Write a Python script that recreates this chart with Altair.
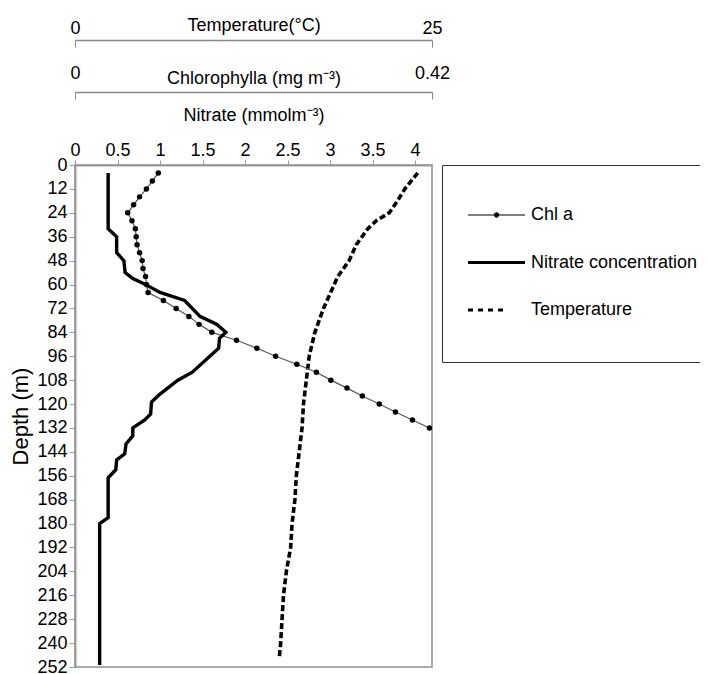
import altair as alt
import pandas as pd

# ---- data ----
depth_chl = [4, 8, 12, 16, 20, 24, 28, 32, 36, 40, 44, 48, 52, 56, 60, 64, 68,
             72, 76, 80, 84, 88, 92, 96, 100, 104, 108, 112, 116, 120, 124, 128, 132]
chl_a = [0.098, 0.091, 0.084, 0.076, 0.069, 0.062, 0.067, 0.071, 0.072, 0.073, 0.076,
         0.079, 0.080, 0.083, 0.084, 0.086, 0.104, 0.119, 0.134, 0.146, 0.161, 0.190,
         0.214, 0.236, 0.261, 0.284, 0.301, 0.320, 0.338, 0.358, 0.377, 0.397, 0.417]

depth_no3 = [4, 32, 36, 44, 48, 54, 57, 60, 64, 68, 76, 80, 84, 87, 92, 104, 108, 115,
             119, 125, 128, 132, 136, 140, 145, 148, 153, 157, 177, 180, 251]
nitrate = [0.39, 0.39, 0.49, 0.49, 0.575, 0.59, 0.68, 0.83, 1.0, 1.29, 1.47, 1.67, 1.775,
           1.70, 1.69, 1.38, 1.21, 1.0, 0.90, 0.89, 0.82, 0.68, 0.68, 0.60, 0.585, 0.49,
           0.48, 0.39, 0.39, 0.29, 0.29]

depth_temp = [4, 12, 20, 24, 28, 32, 40, 48, 56, 64, 72, 84, 96, 108, 120, 132, 144,
              156, 168, 180, 192, 204, 216, 228, 240, 248]
temp_c = [24.0, 23.1, 22.4, 22.0, 21.1, 20.5, 19.7, 19.2, 18.4, 17.9, 17.4, 16.8, 16.4,
          16.2, 16.0, 15.9, 15.7, 15.5, 15.4, 15.2, 15.1, 14.8, 14.6, 14.5, 14.4, 14.3]

series = ["Chl a", "Nitrate concentration", "Temperature"]
depth_ticks = list(range(0, 253, 12))
nitrate_ticks = [0, 0.5, 1, 1.5, 2, 2.5, 3, 3.5, 4]
temp_ticks = [0, 25]
chl_ticks = [0, 0.42]

df_chl = pd.DataFrame({"depth": depth_chl, "chl": chl_a})
df_no3 = pd.DataFrame({"depth": depth_no3, "no3": nitrate})
df_temp = pd.DataFrame({"depth": depth_temp, "temp": temp_c})
df_leg = pd.DataFrame({"series": series})

FONT = "Liberation Sans"
W, H = 357, 502
GRAY = "#999999"

# legend symbol shapes: unit = 24 px (symbolSize 2304), drawn from x=-1 to x=1.375
shape_chl = ("M-1,-0.025H1.375V0.025H-1Z "
             "M0.08,0A0.11,0.11 0 1,1 0.3,0A0.11,0.11 0 1,1 0.08,0Z")
shape_no3 = "M-1,-0.065H1.375V0.065H-1Z"
shape_temp = ("M-1,-0.066H-0.792V0.066H-1Z M-0.583,-0.066H-0.375V0.066H-0.583Z "
              "M-0.167,-0.066H0.041V0.066H-0.167Z M0.25,-0.066H0.458V0.066H0.25Z "
              "M0,1.08")

y_enc = alt.Y(
    "depth:Q",
    scale=alt.Scale(domain=[0, 252], reverse=True, nice=False, zero=False),
    axis=alt.Axis(values=depth_ticks, title="Depth (m)", titleFontSize=22,
                  titleFontWeight="normal", titleX=-55, titleBaseline="middle",
                  labelFontSize=18, tickSize=6, labelPadding=2, labelFlush=False,
                  labelOverlap=False, domainWidth=2),
)

nitrate_layer = alt.Chart(df_no3).mark_line(color="black", strokeWidth=3.4).encode(
    x=alt.X("no3:Q", scale=alt.Scale(domain=[0, 4.2], nice=False, zero=False),
            axis=alt.Axis(orient="top", values=nitrate_ticks, format="~g",
                          title="Nitrate (mmolm⁻³)", titleY=-50, titleBaseline="middle",
                          titleFontSize=18, titleFontWeight="normal",
                          labelFontSize=18, tickSize=5, labelPadding=1,
                          labelFlush=False, labelOverlap=False, domainWidth=2)),
    y=y_enc,
    order=alt.Order("depth:Q"),
)

temp_layer = alt.Chart(df_temp).mark_line(
    color="black", strokeWidth=3.6, strokeDash=[6, 3], strokeCap="butt"
).encode(
    x=alt.X("temp:Q", scale=alt.Scale(domain=[0, 25], nice=False, zero=False),
            axis=alt.Axis(orient="bottom", offset=-627, values=temp_ticks,
                          labelExpr="'' + datum.value",
                          title="Temperature(°C)", titleY=-15, titleBaseline="middle",
                          titleFontSize=18, titleFontWeight="normal",
                          labelFontSize=18, tickSize=7, labelPadding=-19,
                          labelBaseline="middle", labelFlush=False, labelOverlap=False,
                          domainColor="#888888", tickColor="#888888", domainWidth=1.5)),
    y=y_enc,
    order=alt.Order("depth:Q"),
)

chl_scale = alt.Scale(domain=[0, 0.42], nice=False, zero=False)

chl_line = alt.Chart(df_chl).mark_line(color="#555555", strokeWidth=1.2).encode(
    x=alt.X("chl:Q", scale=chl_scale,
            axis=alt.Axis(orient="bottom", offset=-575, values=chl_ticks,
                          labelExpr="'' + datum.value",
                          title="Chlorophylla (mg m⁻³)", titleY=-14, titleBaseline="middle",
                          titleFontSize=18, titleFontWeight="normal",
                          labelFontSize=18, tickSize=7, labelPadding=-26,
                          labelBaseline="middle", labelFlush=False, labelOverlap=False,
                          domainColor="#888888", tickColor="#888888", domainWidth=1.5)),
    y=y_enc,
    order=alt.Order("depth:Q"),
)

chl_pts = alt.Chart(df_chl).mark_point(filled=True, color="black", size=30, opacity=1).encode(
    x=alt.X("chl:Q", scale=chl_scale, axis=None),
    y=y_enc,
)

legend_layer = alt.Chart(df_leg).mark_point(filled=True, color="black", opacity=0).encode(
    shape=alt.Shape(
        "series:N",
        scale=alt.Scale(domain=series, range=[shape_chl, shape_no3, shape_temp]),
        legend=alt.Legend(
            orient="none", legendX=367, legendY=0, direction="vertical",
            title=None,
            padding=26, rowPadding=14.5, symbolSize=2304, symbolStrokeWidth=0,
            symbolFillColor="black", labelOffset=15, labelFontSize=18,
            labelFont=FONT, labelColor="black", labelLimit=400,
            strokeColor="#333333", fillColor="white",
        ),
    ),
)

chart = alt.layer(
    legend_layer, temp_layer, chl_line, chl_pts, nitrate_layer
).resolve_scale(x="independent").properties(
    width=W, height=H,
    autosize=alt.AutoSizeParams(type="none"),
    padding={"left": 67, "top": 157, "right": 268, "bottom": 8},
).configure_view(
    stroke="#aaaaaa", strokeWidth=2
).configure_axis(
    labelFont=FONT, titleFont=FONT, labelColor="black", titleColor="black",
    domainColor=GRAY, tickColor=GRAY, grid=False,
)

chart.save("out.html", embed_options={"renderer": "svg", "actions": False})
